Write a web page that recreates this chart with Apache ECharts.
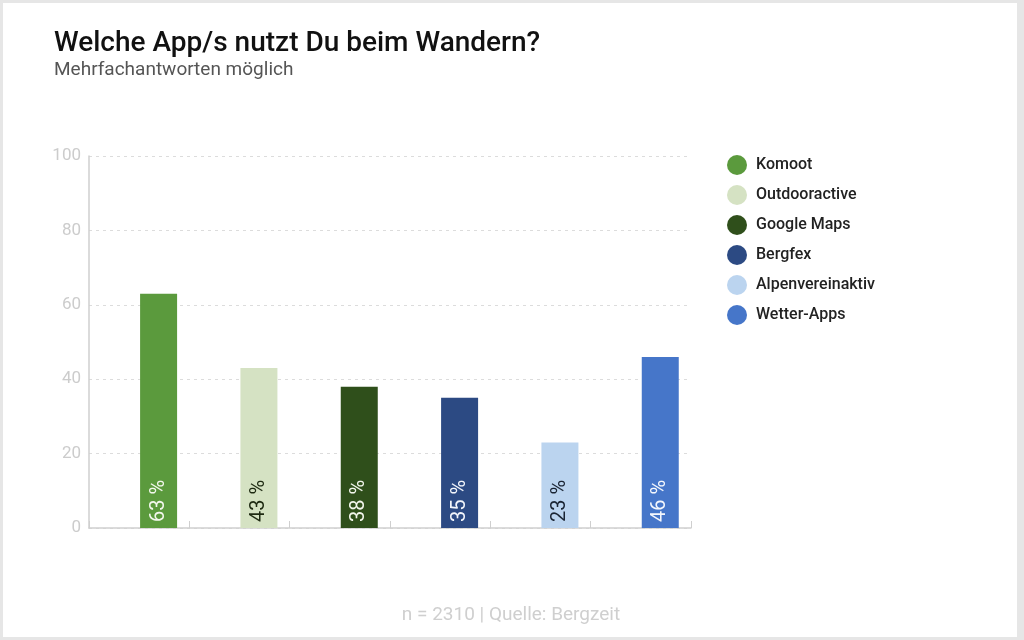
<!DOCTYPE html>
<html>
<head>
<meta charset="utf-8">
<script src="https://cdn.jsdelivr.net/npm/echarts@6/dist/echarts.min.js"></script>
<style>
html,body{margin:0;padding:0;width:1024px;height:640px;background:#e6e6e6;overflow:hidden;}
#c{position:absolute;left:3px;top:3px;width:1014px;height:634px;background:#fff;}
</style>
</head>
<body>
<div id="c"></div>
<script>
const categories = ['Komoot','Outdooractive','Google Maps','Bergfex','Alpenvereinaktiv','Wetter-Apps'];
const values = [63, 43, 38, 35, 23, 46];
const colors = ['#5b9a3d','#d5e2c3','#2f4f1b','#2c4a83','#bbd4ef','#4676c9'];
const labelColors = ['#f2f7ec','#1e2a12','#f2f6ec','#f2f5fb','#1a2433','#f4f7fd'];
const yTicks = [0, 20, 40, 60, 80, 100];

const chart = echarts.init(document.getElementById('c'));
const FONT = 'Roboto';

// empty placeholder stack so the bars sit in the right half of each category, as in the reference
const series = [{
  name: '_spacer', type: 'bar', stack: 'spacer', barWidth: 37, barGap: '5%',
  data: categories.map(() => '-'), silent: true
}].concat(categories.map((name, i) => ({
  name: name,
  type: 'bar',
  stack: 'all',
  barWidth: 37,
  barGap: '5%',
  itemStyle: { color: colors[i] },
  data: categories.map((_, j) => j === i ? values[i] : '-'),
  label: {
    show: true,
    position: 'insideBottom',
    rotate: 90,
    align: 'left',
    verticalAlign: 'middle',
    distance: 6,
    formatter: '{c} %',
    color: labelColors[i],
    fontFamily: FONT,
    fontSize: 20
  }
})));

chart.setOption({
  animation: false,
  title: [{
    text: 'Welche App/s nutzt Du beim Wandern?',
    left: 46, top: 22,
    textStyle: { fontFamily: FONT, fontSize: 28, fontWeight: 500, color: '#111' }
  }, {
    text: 'Mehrfachantworten möglich',
    left: 46, top: 53,
    textStyle: { fontFamily: FONT, fontSize: 19, fontWeight: 'normal', color: '#555' }
  }, {
    text: 'n = 2310 | Quelle: Bergzeit',
    left: 503, top: 598, textAlign: 'center',
    textStyle: { fontFamily: FONT, fontSize: 19, fontWeight: 'normal', color: '#cfcfcf' }
  }],
  legend: {
    orient: 'vertical',
    left: 719, top: 147,
    itemGap: 10,
    itemWidth: 20, itemHeight: 20,
    icon: 'circle',
    data: categories,
    textStyle: { fontFamily: FONT, fontSize: 16, fontWeight: 500, color: '#222', padding: [0,0,0,4] }
  },
  grid: { left: 86, right: 326, top: 153, bottom: 109 },
  xAxis: {
    type: 'category',
    data: categories,
    boundaryGap: true,
    axisLine: { lineStyle: { color: '#cfcfcf', width: 1.5 } },
    axisTick: { show: true, inside: true, interval: 0, length: 7, lineStyle: { color: '#cfcfcf' } },
    axisLabel: { show: false, interval: 0 }
  },
  yAxis: {
    type: 'value',
    min: 0, max: 100, interval: 20,
    axisLine: { show: true, lineStyle: { color: '#cfcfcf', width: 1.5 } },
    axisTick: { show: false },
    axisLabel: { color: '#cccccc', fontFamily: FONT, fontSize: 17, margin: 8,
      formatter: v => yTicks.includes(v) ? String(v) : '' },
    splitLine: { show: true, lineStyle: { color: '#dcdcdc', type: [3, 4], width: 1 } }
  },
  series: series
});
</script>
</body>
</html>
